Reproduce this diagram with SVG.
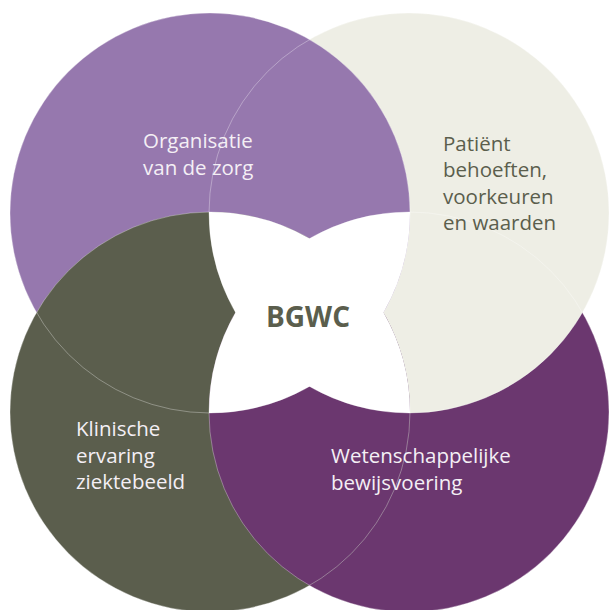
<svg xmlns="http://www.w3.org/2000/svg" width="609" height="610" viewBox="0 0 609 610">
  <style>
    .lbl { font-family: "Open Sans", "Noto Sans", "Liberation Sans", sans-serif; font-size: 20.5px; }
    .light { fill: #f4eff5; }
    .dark { fill: #5b5e4d; }
    .title { font-family: "Open Sans", "Noto Sans", "Liberation Sans", sans-serif; font-size: 28px; font-weight: 700; fill: #5b5e4d; }
    .edge { fill: none; stroke: #ffffff; stroke-opacity: 0.4; stroke-width: 0.8; }
  </style>
  <defs>
    <circle id="c-tl" cx="210" cy="213" r="200"/>
    <circle id="c-tr" cx="409" cy="213" r="200"/>
    <circle id="c-bl" cx="210" cy="412" r="200"/>
    <circle id="c-br" cx="409" cy="412" r="200"/>
    <clipPath id="clip-bl">
      <use href="#c-bl"/>
    </clipPath>
  </defs>

  <rect width="609" height="610" fill="#ffffff"/>

  <!-- interlocking circles: each one overlaps its neighbour in turn -->
  <g id="bewijsvoering">
    <use href="#c-br" fill="#6b376f"/>
  </g>
  <g id="patient">
    <use href="#c-tr" fill="#eeeee5"/>
  </g>
  <g id="organisatie">
    <use href="#c-tl" fill="#9678ae"/>
  </g>
  <g id="klinisch">
    <use href="#c-bl" fill="#5b5e4d"/>
  </g>
  <!-- bottom-right circle laps over bottom-left -->
  <g id="bewijsvoering-overlap" clip-path="url(#clip-bl)">
    <use href="#c-br" fill="#6b376f"/>
  </g>

  <!-- white centre -->
  <g id="bgwc">
    <path fill="#ffffff" d="M209,212 A200,200 0 0 1 309.5,238.5 A200,200 0 0 1 410,212 A200,200 0 0 1 383.5,312.5 A200,200 0 0 1 410,413 A200,200 0 0 1 309.5,386.5 A200,200 0 0 1 209,413 A200,200 0 0 1 235.5,312.5 A200,200 0 0 1 209,212 Z"/>
  </g>

  <!-- faint outlines of the hidden circle edges -->
  <g id="outlines">
    <use href="#c-tl" class="edge"/>
    <use href="#c-tr" class="edge"/>
    <use href="#c-bl" class="edge"/>
    <use href="#c-br" class="edge"/>
  </g>

  <!-- labels -->
  <text class="title" x="266" y="327">BGWC</text>
  <text class="lbl light" x="143" y="148">Organisatie</text>
  <text class="lbl light" x="143" y="175">van de zorg</text>
  <text class="lbl dark" x="443" y="150.5">Patiënt</text>
  <text class="lbl dark" x="443" y="177">behoeften,</text>
  <text class="lbl dark" x="443" y="203.5">voorkeuren</text>
  <text class="lbl dark" x="443" y="230">en waarden</text>
  <text class="lbl light" x="76" y="436">Klinische</text>
  <text class="lbl light" x="76" y="462.5">ervaring</text>
  <text class="lbl light" x="76" y="488.5">ziektebeeld</text>
  <text class="lbl light" x="331" y="463">Wetenschappelijke</text>
  <text class="lbl light" x="331" y="490">bewijsvoering</text>
</svg>
